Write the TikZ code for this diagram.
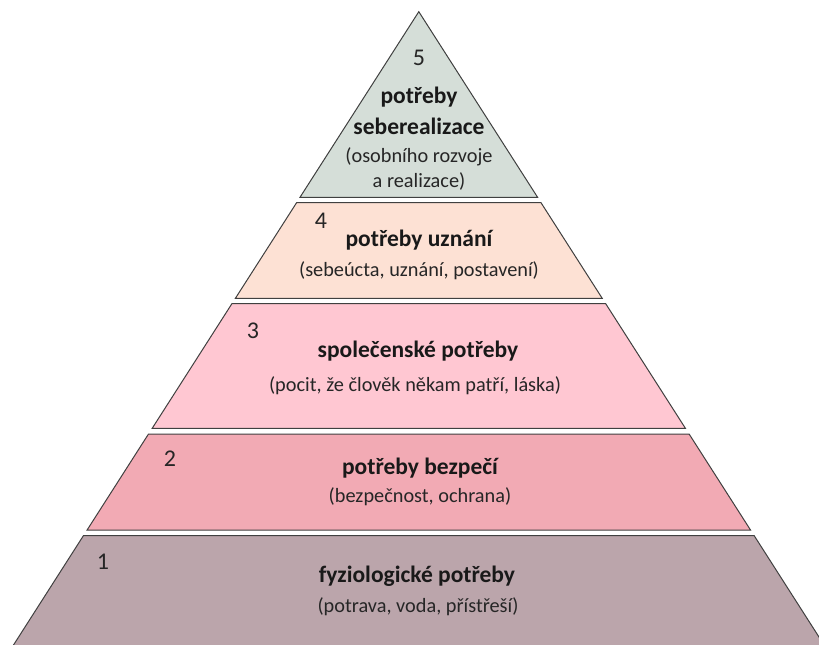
\documentclass[tikz,border=0pt]{standalone}
\usepackage{fontspec}
\setmainfont{Carlito}
\definecolor{cFive}{RGB}{213,222,216}
\definecolor{cFour}{RGB}{253,225,212}
\definecolor{cThree}{RGB}{255,199,210}
\definecolor{cTwo}{RGB}{242,170,180}
\definecolor{cOne}{RGB}{187,165,171}
\definecolor{edgec}{RGB}{64,64,64}
\begin{document}
\begin{tikzpicture}[x=1pt,y=-1pt,
  layer/.style={draw=edgec,line width=1pt,line join=miter},
  title/.style={font=\fontsize{23.5}{28}\selectfont\bfseries,text=black!90,inner sep=0pt,anchor=base},
  sub/.style={font=\fontsize{20.3}{24}\selectfont,text=black!85,inner sep=0pt,anchor=base},
  num/.style={font=\fontsize{24}{28}\selectfont,text=black!85,inner sep=0pt,anchor=base}]
\useasboundingbox (0,0) rectangle (819,645);
\clip (0,0) rectangle (819,645);
% layers
\path[layer,fill=cFive]  (418.8,11.7) -- (537.6,197.3) -- (300.0,197.3) -- cycle;
\path[layer,fill=cFour]  (296.6,202.7) -- (541.0,202.7) -- (602.2,298.3) -- (235.4,298.3) -- cycle;
\path[layer,fill=cThree] (231.9,303.7) -- (605.7,303.7) -- (685.4,428.3) -- (152.2,428.3) -- cycle;
\path[layer,fill=cTwo]   (148.5,434.0) -- (689.1,434.0) -- (750.5,530.0) -- (87.1,530.0) -- cycle;
\path[layer,fill=cOne]   (83.4,535.7) -- (754.2,535.7) -- (833.7,660) -- (3.9,660) -- cycle;
% layer 5
\node[num]   (n5)  at (419,65)  {5};
\node[title] (t5a) at (419,103) {potřeby};
\node[title] (t5b) at (419,134) {seberealizace};
\node[sub]   (s5a) at (419,162) {(osobního rozvoje};
\node[sub]   (s5b) at (419,187) {a realizace)};
% layer 4
\node[num]   (n4)  at (321,228) {4};
\node[title] (t4)  at (419,246) {potřeby uznání};
\node[sub]   (s4)  at (419,276) {(sebeúcta, uznání, postavení)};
% layer 3
\node[num]   (n3)  at (253,338) {3};
\node[title] (t3)  at (418,357) {společenské potřeby};
\node[sub]   (s3)  at (415,391) {(pocit, že člověk někam patří, láska)};
% layer 2
\node[num]   (n2)  at (170,466) {2};
\node[title] (t2)  at (420,474) {potřeby bezpečí};
\node[sub]   (s2)  at (420,502) {(bezpečnost, ochrana)};
% layer 1
\node[num]   (n1)  at (103,569) {1};
\node[title] (t1)  at (417,582) {fyziologické potřeby};
\node[sub]   (s1)  at (418,612) {(potrava, voda, přístřeší)};
\end{tikzpicture}
\end{document}
